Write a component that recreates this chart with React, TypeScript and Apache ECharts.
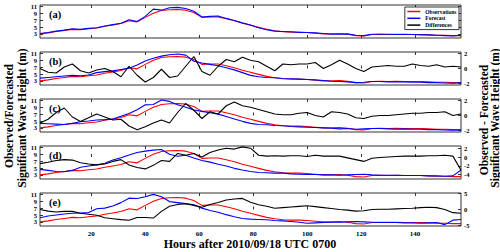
import React, { useEffect, useRef } from 'react';
import * as echarts from 'echarts';

const FONT = '"Liberation Serif", "Times New Roman", serif';

const hours = [
  1, 4, 7, 10, 13, 16, 19, 22, 25, 28,
  31, 34, 37, 40, 43, 46, 49, 52, 55, 58,
  61, 64, 67, 70, 73, 76, 79, 82, 85, 88,
  91, 94, 97, 100, 103, 106, 109, 112, 115, 118,
  121, 124, 127, 130, 133, 136, 139, 142, 145, 148,
  151, 154, 157,
];

const observations = [
  3.0, 3.3, 3.7, 4.0, 4.3, 4.2, 4.5, 4.7, 5.2, 5.6,
  6.0, 6.8, 6.5, 7.8, 9.0, 9.8, 10.0, 10.1, 9.9, 9.2,
  7.8, 7.9, 7.9, 7.4, 6.8, 6.1, 5.5, 4.9, 4.3, 3.9,
  3.6, 3.5, 3.5, 3.4, 3.2, 3.0, 3.0, 3.1, 2.9, 2.5,
  2.4, 2.8, 2.9, 2.8, 2.9, 2.8, 2.8, 2.8, 2.7, 2.6,
  2.6, 2.5, 2.5,
];

const forecastA = [
  3.1, 3.4, 3.8, 4.1, 4.5, 4.3, 4.6, 4.8, 5.3, 5.7,
  6.1, 7.1, 6.6, 8.1, 10.2, 9.9, 10.6, 10.7, 10.4, 9.6,
  7.9, 8.1, 8.2, 7.5, 6.9, 6.2, 5.6, 4.8, 4.2, 3.8,
  3.7, 3.6, 3.4, 3.4, 3.3, 3.1, 2.9, 2.9, 3.0, 2.6,
  2.5, 2.9, 2.9, 2.9, 2.8, 2.9, 2.8, 2.7, 2.7, 2.6,
  2.5, 2.4, 2.6,
];

const forecastB = [
  3.8, 4.0, 4.2, 4.4, 4.6, 4.5, 4.7, 5.4, 5.7, 5.9,
  6.3, 6.7, 7.6, 8.8, 9.6, 10.2, 10.6, 10.8, 10.5, 8.7,
  8.2, 7.8, 7.4, 6.8, 6.2, 5.4, 4.6, 4.2, 4.0, 3.9,
  3.7, 3.6, 3.5, 3.4, 3.3, 3.1, 2.9, 2.8, 2.7, 2.5,
  2.6, 2.8, 2.8, 2.7, 2.7, 2.7, 2.6, 2.6, 2.5, 2.5,
  2.4, 2.3, 2.5,
];

const differencesB = [
  0.0, -0.5, -0.6, 0.2, 0.6, -0.3, -0.6, -0.2, 0.0, -0.4,
  -1.1, 0.3, -0.9, -1.8, -1.2, -0.1, -1.2, -1.0, 0.3, 1.6,
  -0.4, -0.9, 0.3, 1.2, 0.9, 1.5, 1.1, 0.9, 0.3, -0.3,
  0.6, 0.5, 0.6, 0.6, 0.8, 0.0, 0.5, 1.1, 0.6, 0.0,
  -0.4, 0.2, 0.3, 0.4, 0.3, 0.3, 0.6, 0.4, 0.3, 0.5,
  0.2, 0.3, 0.2,
];

const forecastC = [
  4.3, 4.2, 4.1, 4.0, 4.3, 4.8, 5.0, 5.3, 5.4, 5.6,
  6.4, 7.2, 8.3, 9.7, 9.8, 11.1, 10.7, 9.7, 9.0, 8.2,
  7.8, 7.4, 7.0, 6.3, 5.6, 4.9, 4.3, 4.0, 3.9, 3.7,
  3.6, 3.4, 3.3, 3.2, 3.1, 3.0, 2.9, 2.7, 2.8, 2.6,
  2.7, 2.8, 2.8, 2.7, 2.6, 2.7, 2.6, 2.6, 2.5, 2.5,
  2.4, 2.3, 2.4,
];

const differencesC = [
  -1.0, -0.5, 0.4, 1.0, -0.2, -0.8, -0.3, 0.2, -0.2, -0.6,
  -0.5, -1.4, -1.9, -1.5, -1.0, -0.6, -1.0, 0.4, 1.6, 0.7,
  -0.4, 0.5, 0.2, 1.3, 1.8, 1.3, 1.1, 0.8, 0.5, 0.2,
  0.1, 0.1, 0.3, 0.4, 0.0, -0.2, 0.5, 0.4, 0.2, -0.3,
  -0.4, -0.1, 0.0, 0.0, 0.1, 0.2, 0.3, 0.3, 0.4, 0.4,
  0.5, 0.0, 0.2,
];

const forecastD = [
  4.6, 4.3, 4.0, 3.9, 4.3, 5.2, 5.6, 5.9, 6.4, 7.3,
  8.0, 8.8, 9.5, 9.9, 10.2, 10.4, 9.0, 8.4, 8.7, 7.9,
  7.2, 6.7, 6.1, 5.6, 4.9, 4.4, 4.0, 3.7, 3.6, 3.5,
  3.5, 3.3, 3.2, 3.1, 3.1, 3.0, 3.0, 2.9, 3.0, 3.1,
  3.2, 3.0, 2.9, 2.9, 2.9, 2.8, 2.8, 2.8, 2.7, 2.7,
  2.6, 2.7, 4.4,
];

const differencesD = [
  -1.5, -1.2, -0.8, -0.6, -0.7, -1.3, -1.6, -1.8, -1.6, -1.0,
  -0.6, -1.8, -2.4, -2.7, -1.9, -0.8, -1.0, 0.8, 0.4, 0.8,
  0.0, 1.0, 1.6, 2.0, 1.8, 2.3, 2.0, 0.4, 0.2, 0.3,
  0.2, 0.3, 0.3, 0.1, 0.4, 0.2, 0.2, 0.2, -0.2, -0.6,
  -1.0, -0.3, -0.1, 0.0, 0.1, 0.2, 0.2, 0.2, 0.3, 0.3,
  0.4, 0.2, -3.0,
];

const forecastE = [
  4.2, 4.7, 5.0, 5.3, 5.5, 5.6, 5.7, 6.8, 7.0, 7.6,
  8.6, 9.9, 9.8, 10.3, 11.0, 10.3, 8.9, 8.6, 8.3, 8.0,
  7.0, 6.3, 5.8, 5.1, 4.5, 4.0, 3.8, 3.7, 3.6, 3.4,
  3.3, 3.1, 2.9, 2.6, 2.7, 2.8, 2.9, 2.9, 3.0, 3.1,
  3.0, 2.9, 2.8, 2.9, 2.8, 2.7, 2.7, 2.6, 2.7, 2.8,
  2.2, 3.5, 3.7,
];

const differencesE = [
  0.0, -0.5, -0.8, -0.6, -0.6, -1.2, -1.5, -1.8, -2.6, -2.9,
  -3.2, -3.4, -2.5, -2.5, -2.7, -0.6, 1.0, 1.6, 1.8, 1.3,
  0.7, 1.6, 2.2, 3.0, 3.3, 3.5, 2.3, 1.5, 1.0, 0.4,
  0.6, 0.8, 1.0, 1.2, 0.9, 0.6, 0.3, 0.0, -0.2, -0.5,
  -0.4, 0.0, 0.1, 0.1, 0.2, 0.3, 0.4, 0.6, 0.7, 0.6,
  0.0, -1.0, -1.2,
];

const xTicks = [20, 40, 60, 80, 100, 120, 140];
const heightTicks = [3, 5, 7, 9, 11];
const panelLabels = ['(a)', '(b)', '(c)', '(d)', '(e)'];
const forecasts = [forecastA, forecastB, forecastC, forecastD, forecastE];
const differences = [null, differencesB, differencesC, differencesD, differencesE];
const diffRanges = [
  null,
  { min: -2.2, max: 2.2, ticks: [-2, 0, 2] },
  { min: -2.2, max: 2.2, ticks: [-2, 0, 2] },
  { min: -5, max: 2.5, ticks: [-4, -2, 0, 2] },
  { min: -5.2, max: 5.2, ticks: [-5, 0, 5] },
];

const TOPS = [5, 52, 99, 146, 193];
const PANEL_H = 33;
const LEFT = 40;
const WIDTH = 421;
const FRAME = '#333';

function pairs(vals: number[]) {
  return hours.map((h, k) => [h, vals[k]]);
}

function buildOption() {
  const grid: any[] = [];
  const xAxis: any[] = [];
  const yAxis: any[] = [];
  const series: any[] = [];
  const graphic: any[] = [];

  const tickStyle = { color: FRAME, width: 1 };
  const labelBase = { fontFamily: FONT, fontWeight: 'bold', color: '#000' };

  for (let i = 0; i < 5; i++) {
    grid.push({
      left: LEFT, width: WIDTH, top: TOPS[i], height: PANEL_H,
      show: true, borderColor: FRAME, borderWidth: 1, backgroundColor: 'transparent',
    });
    for (const pos of ['bottom', 'top']) {
      xAxis.push({
        gridIndex: i, type: 'value', min: 1, max: 157, position: pos,
        axisLine: { show: false },
        axisTick: { show: true, inside: true, length: 3, customValues: xTicks, lineStyle: tickStyle },
        axisLabel: {
          show: pos === 'bottom' && i === 4, customValues: xTicks,
          fontSize: 7, margin: 4, ...labelBase,
        },
        splitLine: { show: false },
      });
    }
    yAxis.push({
      gridIndex: i, type: 'value', min: 1.8, max: 11.4, position: 'left',
      axisLine: { show: false },
      axisTick: { show: true, inside: true, length: 3, customValues: heightTicks, lineStyle: tickStyle },
      axisLabel: { show: true, customValues: heightTicks, fontSize: 6.5, margin: 3, ...labelBase },
      splitLine: { show: false },
    });
    const dr = diffRanges[i];
    if (dr) {
      yAxis.push({
        gridIndex: i, type: 'value', min: dr.min, max: dr.max, position: 'right',
        axisLine: { show: false },
        axisTick: { show: true, inside: true, length: 3, customValues: dr.ticks, lineStyle: tickStyle },
        axisLabel: { show: true, customValues: dr.ticks, fontSize: 6.5, margin: 3, ...labelBase },
        splitLine: { show: false },
      });
    } else {
      yAxis.push({
        gridIndex: i, type: 'value', min: 1.8, max: 11.4, position: 'right',
        axisLine: { show: false },
        axisTick: { show: true, inside: true, length: 3, customValues: heightTicks, lineStyle: tickStyle },
        axisLabel: { show: false },
        splitLine: { show: false },
      });
    }

    const common = { type: 'line', symbol: 'none', xAxisIndex: 2 * i, silent: true };
    series.push({
      ...common, name: 'Observations', yAxisIndex: 2 * i,
      data: pairs(observations), lineStyle: { color: '#ff0000', width: 1.1 }, itemStyle: { color: '#ff0000' },
    });
    series.push({
      ...common, name: 'Forecast', yAxisIndex: 2 * i,
      data: pairs(forecasts[i]), lineStyle: { color: '#0000ff', width: 1.1 }, itemStyle: { color: '#0000ff' },
    });
    const d = differences[i];
    if (d) {
      series.push({
        ...common, name: 'Differences', yAxisIndex: 2 * i + 1,
        data: pairs(d), lineStyle: { color: '#000000', width: 1.1 }, itemStyle: { color: '#000000' },
      });
    }

    graphic.push({
      type: 'text', x: 49, y: TOPS[i] + 9.5,
      style: { text: panelLabels[i], font: `bold 10.5px ${FONT}`, fill: '#000', textAlign: 'left', textVerticalAlign: 'middle' },
    });
  }

  const rotText = (text: string, x: number, y: number) => ({
    type: 'text', x, y, rotation: Math.PI / 2,
    style: { text, x: 0, y: 0, font: `bold 11.5px ${FONT}`, fill: '#000', textAlign: 'center', textVerticalAlign: 'middle' },
  });
  graphic.push(rotText('Observed/Forecasted', 9, 116));
  graphic.push(rotText('Significant Wave Height (m)', 22, 118));
  graphic.push(rotText('Observed - Forecasted', 484, 120));
  graphic.push(rotText('Significant Wave Height (m)', 495, 118));
  graphic.push({
    type: 'text', x: 250, y: 244,
    style: { text: 'Hours after 2010/09/18 UTC 0700', font: `bold 12px ${FONT}`, fill: '#000', textAlign: 'center', textVerticalAlign: 'middle' },
  });

  return {
    animation: false,
    backgroundColor: '#fff',
    grid, xAxis, yAxis, series, graphic,
    legend: {
      data: ['Observations', 'Forecast', 'Differences'],
      orient: 'vertical', right: 41, top: 7,
      icon: 'rect', itemWidth: 13, itemHeight: 1.5, itemGap: 0.8,
      padding: [1.5, 2.5, 1.5, 2.5],
      backgroundColor: '#fff', borderColor: '#000', borderWidth: 0.8,
      textStyle: { fontFamily: FONT, fontWeight: 'bold', fontSize: 5.5, color: '#000', lineHeight: 5.5 },
      selectedMode: false,
    },
  };
}

export default function App() {
  const ref = useRef<HTMLDivElement>(null);
  useEffect(() => {
    if (!ref.current) return;
    const chart = echarts.init(ref.current, null, { renderer: 'svg' });
    chart.setOption(buildOption() as any);
    return () => chart.dispose();
  }, []);
  return (
    <div
      ref={ref}
      style={{ position: 'fixed', left: 0, top: 0, width: 500, height: 252, background: '#fff' }}
    />
  );
}
